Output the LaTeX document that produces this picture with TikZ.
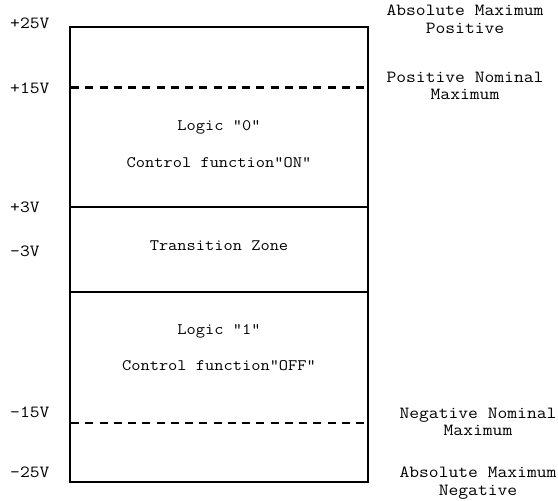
\documentclass[tikz,border=0pt]{standalone}
\usepackage{fontspec}
\newfontfamily\courfont{Latin Modern Mono}[FakeStretch=1.12]
\begin{document}
\begin{tikzpicture}[x=1pt,y=1pt,
  sidelabel/.style={font=\courfont\fontsize{17}{17}\selectfont, inner sep=0pt},
  zonelabel/.style={font=\courfont\fontsize{16}{17}\selectfont, inner sep=0pt, anchor=mid},
  boxline/.style={line width=2pt},
  levelline/.style={line width=2.6pt},
  nomline/.style={line width=2.6pt, dash pattern=on 8pt off 6.25pt}]
\useasboundingbox (0,0) rectangle (558,501);
% outer box
\coordinate (tl) at (70,473.5);
\coordinate (br) at (368,19);
\draw[boxline] (tl) rectangle (br);
% level lines
\coordinate (p15l) at (71,413.5);
\coordinate (p15r) at (365,413.5);
\coordinate (p3l) at (71,294);
\coordinate (p3r) at (367,294);
\coordinate (m3l) at (71,209);
\coordinate (m3r) at (367,209);
\coordinate (m15l) at (71,78);
\coordinate (m15r) at (365,78);
\draw[nomline] (p15l) -- (p15r);
\draw[levelline] (p3l) -- (p3r);
\draw[levelline] (m3l) -- (m3r);
\draw[nomline] (m15l) -- (m15r);
% left voltage labels
\node[sidelabel, anchor=mid west] (v25) at (10,475) {+25V};
\node[sidelabel, anchor=mid west] (v15) at (10,410) {+15V};
\node[sidelabel, anchor=mid west] (v3) at (10,291) {+3V};
\node[sidelabel, anchor=mid west] (vm3) at (10,247) {-3V};
\node[sidelabel, anchor=mid west] (vm15) at (10,86) {-15V};
\node[sidelabel, anchor=mid west] (vm25) at (10,26) {-25V};
% right labels
\node[sidelabel, anchor=mid] (amp1) at (465,487.5) {Absolute Maximum};
\node[sidelabel, anchor=mid] (amp2) at (465,470) {Positive};
\node[sidelabel, anchor=mid] (pnm1) at (465,421) {Positive Nominal};
\node[sidelabel, anchor=mid] (pnm2) at (465,404) {Maximum};
\node[sidelabel, anchor=mid] (nnm1) at (478,85) {Negative Nominal};
\node[sidelabel, anchor=mid] (nnm2) at (478,68) {Maximum};
\node[sidelabel, anchor=mid] (amn1) at (478,25.5) {Absolute Maximum};
\node[sidelabel, anchor=mid] (amn2) at (478,8) {Negative};
% zone labels
\node[zonelabel] (l0) at (219,373) {Logic "0"};
\node[zonelabel] (c0) at (219,336) {Control function"ON"};
\node[zonelabel] (tz) at (219,253) {Transition Zone};
\node[zonelabel] (l1) at (219,169) {Logic "1"};
\node[zonelabel] (c1) at (219,133) {Control function"OFF"};
\end{tikzpicture}
\end{document}
